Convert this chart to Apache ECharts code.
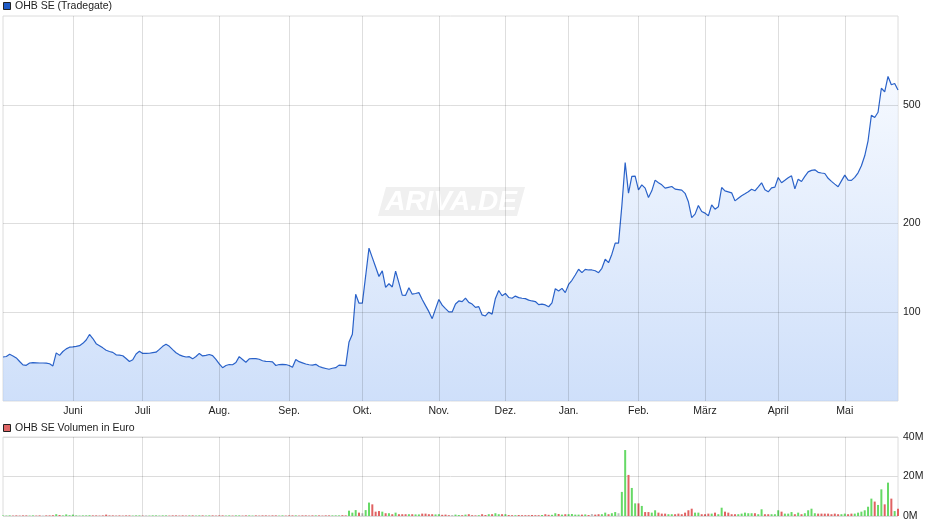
<!DOCTYPE html>
<html><head><meta charset="utf-8">
<script src="https://cdn.jsdelivr.net/npm/echarts@6/dist/echarts.min.js"></script>
<style>html,body{margin:0;padding:0;background:#fff}#c{width:940px;height:526px}</style>
</head><body><div id="c"></div>
<script>
const monthLabels = ['Juni','Juli','Aug.','Sep.','Okt.','Nov.','Dez.','Jan.','Feb.','März','April','Mai'];
const monthStarts = [21, 42, 65, 86, 108, 131, 151, 170, 191, 211, 233, 253];
const priceTicks = [100, 200, 500];
const prices = [
70.4,70.7,71.9,71.0,69.9,68.0,66.2,66.0,67.2,67.4,
67.3,67.2,67.2,67.1,66.8,65.7,72.7,71.3,73.5,75.0,
76.0,76.2,76.5,76.9,78.3,80.4,83.9,81.3,78.1,76.9,
75.6,74.2,73.5,73.0,71.6,71.4,71.1,69.6,68.0,68.9,
72.1,73.6,72.4,72.4,72.5,72.8,73.1,74.7,76.5,77.8,
76.5,74.6,72.8,71.6,70.9,70.4,70.6,69.4,70.7,72.4,
71.0,71.3,71.8,71.2,69.1,66.7,64.8,65.9,66.4,66.3,
67.5,70.6,69.1,67.6,69.4,69.6,69.5,69.2,68.4,68.1,
68.0,67.8,65.9,66.4,66.5,66.4,65.9,65.0,69.1,67.9,
67.3,66.7,66.3,66.1,66.5,65.4,64.8,64.4,64.0,64.5,
64.8,66.1,66.0,65.8,79.2,84.0,114.7,107.0,107.0,132.3,
164.2,152.6,141.9,131.8,137.6,121.0,124.5,121.4,137.4,125.3,
113.9,113.8,120.7,114.8,115.4,116.2,110.2,105.0,100.2,94.9,
102.4,110.2,105.4,102.6,100.0,100.0,106.4,108.9,108.4,111.3,
107.7,106.3,103.6,104.2,97.7,96.9,99.8,98.3,111.1,118.1,
113.4,115.5,111.9,111.2,113.1,111.8,111.2,110.9,109.6,108.9,
108.4,105.8,106.3,105.6,104.1,107.3,119.8,117.7,120.1,116.2,
123.8,127.9,133.3,139.4,135.7,139.3,138.6,138.6,137.8,135.7,
140.4,150.7,146.7,156.7,170.8,170.8,228.3,319.9,252.0,287.2,
287.7,258.6,268.8,262.0,243.5,256.6,278.8,273.2,268.8,262.0,
263.7,265.3,260.0,259.0,258.0,251.6,235.5,208.4,214.0,228.8,
218.4,215.7,211.2,230.1,222.5,226.5,263.3,256.6,254.6,252.6,
237.3,242.0,246.8,250.6,254.6,259.6,256.6,264.7,273.2,258.6,
254.6,262.6,264.1,284.5,273.2,278.4,283.9,288.4,260.6,281.0,
275.8,287.2,297.3,300.9,302.1,296.3,294.8,293.6,282.8,276.2,
270.3,264.7,277.3,290.0,279.0,278.4,285.0,295.2,311.7,337.0,
378.7,461.9,454.1,472.8,570.0,554.6,624.7,585.7,591.6,562.0
];
// Volume in million euro
const volumes = [
0.3,0.2,0.3,0.2,0.3,0.2,0.3,0.3,0.2,0.3,
0.2,0.3,0.2,0.3,0.3,0.4,0.9,0.5,0.3,0.8,
0.4,0.7,0.3,0.2,0.3,0.3,0.4,0.3,0.3,0.2,
0.3,0.7,0.3,0.3,0.2,0.3,0.2,0.3,0.3,0.2,
0.3,0.3,0.2,0.3,0.2,0.3,0.3,0.2,0.3,0.3,
0.2,0.3,0.3,0.2,0.3,0.2,0.3,0.3,0.2,0.3,
0.3,0.2,0.3,0.3,0.2,0.3,0.3,0.2,0.3,0.2,
0.3,0.3,0.2,0.3,0.3,0.2,0.3,0.2,0.3,0.3,
0.2,0.3,0.3,0.2,0.3,0.2,0.3,0.3,0.3,0.2,
0.3,0.3,0.2,0.3,0.3,0.3,0.2,0.3,0.3,0.3,
0.3,0.3,0.4,0.3,2.7,1.7,3.0,1.7,1.4,3.0,
6.8,5.9,2.2,2.5,2.2,1.4,1.4,0.9,1.7,0.9,
0.9,0.9,0.9,0.9,0.8,0.8,1.2,1.2,0.9,0.9,
0.8,0.9,0.6,0.7,0.4,0.5,0.7,0.5,0.4,0.7,
0.9,0.4,0.3,0.4,0.9,0.5,0.9,0.9,1.4,0.9,
0.9,0.9,0.5,0.4,0.4,0.5,0.4,0.4,0.4,0.5,
0.4,0.4,0.5,0.9,0.6,0.6,1.4,1.0,0.7,0.9,
0.9,1.0,0.7,0.7,0.7,0.8,0.5,1.0,0.7,0.9,
0.9,1.7,0.9,1.4,2.0,1.4,12.2,33.4,20.8,14.2,
6.4,6.4,5.1,2.0,2.0,1.7,2.9,1.7,1.2,1.2,
0.9,0.9,0.9,1.2,0.9,1.7,2.9,3.7,1.7,1.7,
0.9,0.9,1.2,1.2,1.7,0.9,4.2,2.2,1.7,0.9,
0.9,0.9,1.2,1.7,1.4,1.4,1.4,0.9,3.4,0.9,
0.9,0.9,0.9,2.9,2.2,1.2,1.2,2.0,0.9,1.7,
0.9,1.4,2.9,3.7,1.4,1.2,1.2,1.2,1.2,0.9,
1.2,0.9,0.9,1.2,0.9,1.2,1.2,1.7,2.2,2.9,
4.7,8.8,7.3,5.6,13.5,5.9,16.9,8.8,2.5,3.7
];

const categories = prices.map((_, i) => 'T' + i);
const labelAt = {};
monthStarts.forEach((s, k) => { labelAt[s] = monthLabels[k]; });
const isMonth = (idx) => labelAt[idx] !== undefined;
const GREEN = '#66d966', RED = '#e06262', GRAY = '#bdbdbd';
const volColors = volumes.map((v, i) => i === 0 ? GREEN : (prices[i] > prices[i-1] ? GREEN : (prices[i] < prices[i-1] ? RED : GRAY)));
const FONT = '"Liberation Sans", Arial, sans-serif';
const GRIDC = 'rgba(0,0,0,0.13)';

const chart = echarts.init(document.getElementById('c'), null, {renderer: 'canvas'});
chart.setOption({
  animation: false,
  textStyle: {fontFamily: FONT},
  grid: [
    {left: 3, right: 42, top: 16, height: 385, show: true, borderColor: '#dcdcdc', borderWidth: 1},
    {left: 3, right: 42, top: 437, height: 79, show: true, borderColor: '#dcdcdc', borderWidth: 1}
  ],
  xAxis: [
    {type: 'category', gridIndex: 0, data: categories, boundaryGap: false, z: 3,
     axisLine: {show: false}, axisTick: {show: false},
     axisLabel: {interval: (i) => isMonth(i), formatter: (v, i) => labelAt[i] || '', color: '#222', fontSize: 10.5, fontFamily: FONT, margin: 5},
     splitLine: {show: true, interval: (i) => isMonth(i), lineStyle: {color: GRIDC, width: 1}}},
    {type: 'category', gridIndex: 1, data: categories, boundaryGap: false, z: 3,
     axisLine: {show: false}, axisTick: {show: false}, axisLabel: {show: false},
     splitLine: {show: true, interval: (i) => isMonth(i), lineStyle: {color: GRIDC, width: 1}}}
  ],
  yAxis: [
    {type: 'log', logBase: 10, gridIndex: 0, min: 50, max: 1000, position: 'right',
     axisLine: {show: false}, axisTick: {show: false}, axisLabel: {show: false}, splitLine: {show: false}},
    {type: 'value', gridIndex: 1, min: 0, max: 40, interval: 20, position: 'right',
     axisLine: {show: false}, axisTick: {show: false},
     axisLabel: {formatter: (v) => v + 'M', color: '#222', fontSize: 10.5, fontFamily: FONT, margin: 5},
     splitLine: {show: true, lineStyle: {color: '#dcdcdc', width: 1}}}
  ],
  graphic: [
    {type: 'polygon', shape: {points: [[386, 187], [525, 187], [517, 216], [378, 216]]}, style: {fill: '#f0f0f0'}, z: 0},
    {type: 'text', x: 451, y: 202, style: {text: 'ARIVA.DE', font: 'italic bold 28px "Liberation Sans", Arial', fill: '#ffffff', align: 'center', verticalAlign: 'middle'}, z: 1},
    {type: 'rect', shape: {x: 3.5, y: 2.5, width: 7, height: 7}, style: {fill: '#1f5bc6', stroke: '#222', lineWidth: 1}},
    {type: 'text', x: 15, y: 6.5, style: {text: 'OHB SE (Tradegate)', font: '10.5px "Liberation Sans", Arial', fill: '#222', verticalAlign: 'middle'}},
    {type: 'rect', shape: {x: 3.5, y: 424.5, width: 7, height: 7}, style: {fill: '#e06666', stroke: '#222', lineWidth: 1}},
    {type: 'text', x: 15, y: 428.5, style: {text: 'OHB SE Volumen in Euro', font: '10.5px "Liberation Sans", Arial', fill: '#222', verticalAlign: 'middle'}}
  ],
  series: [
    {type: 'line', xAxisIndex: 0, yAxisIndex: 0, data: prices, symbol: 'none', z: 2,
     lineStyle: {color: '#2a62c9', width: 1.2},
     areaStyle: {origin: 'start', color: new echarts.graphic.LinearGradient(0, 0, 0, 1, [
       {offset: 0, color: '#f1f6fe'}, {offset: 1, color: '#b9d1f7'}])},
     markLine: {silent: true, symbol: ['none', 'none'], animation: false,
       lineStyle: {color: GRIDC, type: 'solid', width: 1},
       label: {position: 'end', formatter: '{c}', color: '#222', fontSize: 10.5, fontFamily: FONT, distance: 5},
       data: priceTicks.map((v) => ({yAxis: v}))}},
    {type: 'bar', xAxisIndex: 1, yAxisIndex: 1, barWidth: 2,
     data: volumes.map((v, i) => ({value: v, itemStyle: {color: volColors[i]}}))}
  ]
});
</script></body></html>
